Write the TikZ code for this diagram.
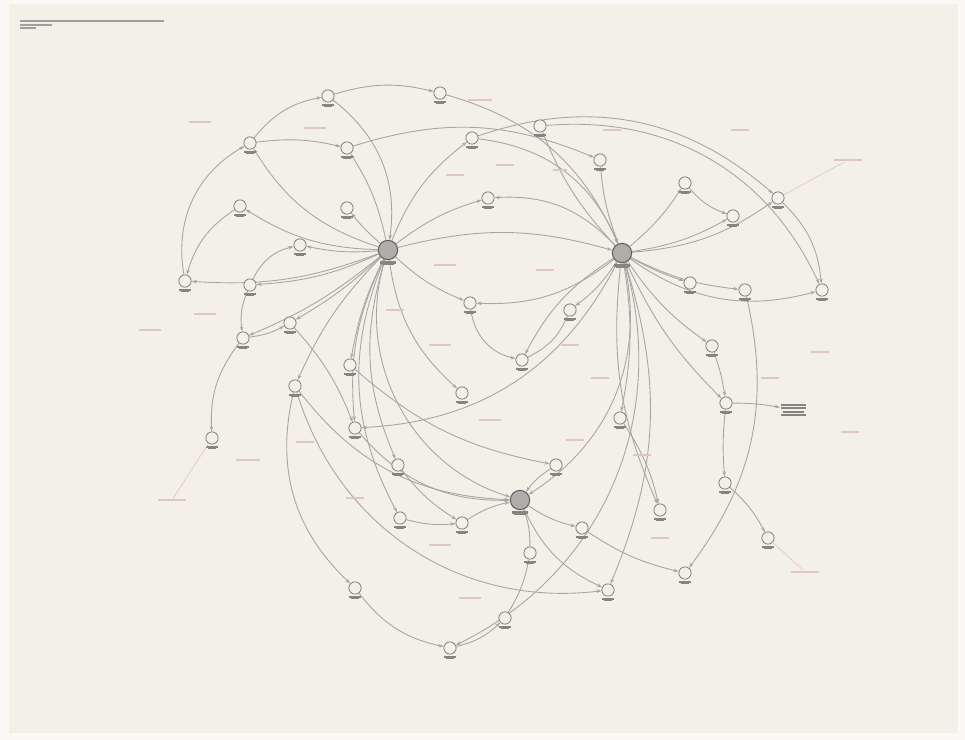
\documentclass[tikz,border=0pt]{standalone}
\usepackage{tikz}
\usetikzlibrary{positioning, arrows.meta, backgrounds}

\definecolor{paper}{RGB}{243,240,231}
\definecolor{ink}{RGB}{120,118,112}
\definecolor{pinkink}{RGB}{226,196,192}

\begin{document}
\begin{tikzpicture}[
  x=0.02cm, y=-0.02cm,
  >={Stealth[length=3pt,width=2pt]},
  nd/.style={circle, draw=ink, fill=paper, line width=0.4pt, minimum size=7pt, inner sep=0pt,
             label={[lblt]below:{\rule{7pt}{1.1pt}\\[-5pt]\rule{5pt}{1.1pt}}}},
  hub/.style={circle, draw=ink!80!black, fill=ink!60, line width=0.6pt, minimum size=11pt, inner sep=0pt,
             label={[lblt]below:{\rule{9pt}{1.3pt}\\[-5pt]\rule{7pt}{1.3pt}}}},
  lblt/.style={align=center, text=ink!90, inner sep=0.5pt, font=\tiny},
  note/.style={text=pinkink, inner sep=0.5pt, font=\tiny},
  arc/.style={->, ink!65, line width=0.5pt},
  lead/.style={pinkink, line width=0.35pt},
]

% ---- paper ----
\begin{scope}[on background layer]
  \fill[white!60!paper] (0,0) rectangle (965,740);
  \fill[paper] (9,4) rectangle (958,733);
\end{scope}
\useasboundingbox (0,0) rectangle (965,740);

% ---- title block (top left) ----
\node[anchor=north west, align=left, text=ink!70, inner sep=0pt, font=\tiny] (title) at (20,20)
  {\rule{82pt}{1pt}\\[-4pt]\rule{18pt}{1pt}\\[-4pt]\rule{9pt}{1pt}};

% ============================================================
% NODES
% ============================================================
\node[hub] (hA) at (388,250) {};
\node[hub] (hB) at (622,253) {};

\node[nd] (n1)  at (328,96)  {};
\node[nd] (n2)  at (440,93)  {};
\node[nd] (n3)  at (250,143) {};
\node[nd] (n4)  at (347,148) {};
\node[nd] (n5)  at (240,206) {};
\node[nd] (n6)  at (185,281) {};
\node[nd] (n7)  at (250,285) {};
\node[nd] (n8)  at (243,338) {};
\node[nd] (n9)  at (290,323) {};
\node[nd] (n10) at (295,386) {};
\node[nd] (n11) at (212,438) {};
\node[nd] (n12) at (355,428) {};
\node[nd] (n13) at (470,303) {};
\node[nd] (n14) at (522,360) {};
\node[nd] (n15) at (488,198) {};
\node[nd] (n16) at (472,138) {};
\node[nd] (n17) at (540,126) {};
\node[nd] (n18) at (600,160) {};
\node[nd] (n19) at (685,183) {};
\node[nd] (n20) at (733,216) {};
\node[nd] (n21) at (778,198) {};
\node[nd] (n22) at (822,290) {};
\node[nd] (n23) at (745,290) {};
\node[nd] (n24) at (690,283) {};
\node[nd] (n25) at (712,346) {};
\node[nd] (n26) at (726,403) {};
\node[nd] (n27) at (725,483) {};
\node[nd] (n28) at (768,538) {};
\node[nd] (n29) at (660,510) {};
\node[nd] (n30) at (620,418) {};
\node[nd] (n31) at (556,465) {};
\node[hub] (n32) at (520,500) {};
\node[nd] (n33) at (462,523) {};
\node[nd] (n34) at (530,553) {};
\node[nd] (n35) at (582,528) {};
\node[nd] (n36) at (685,573) {};
\node[nd] (n37) at (355,588) {};
\node[nd] (n38) at (505,618) {};
\node[nd] (n39) at (450,648) {};
\node[nd] (n40) at (400,518) {};
\node[nd] (n41) at (462,393) {};
\node[nd] (n42) at (570,310) {};
\node[nd] (n43) at (347,208) {};
\node[nd] (n44) at (300,245) {};
\node[nd] (n45) at (608,590) {};
\node[nd] (n46) at (350,365) {};
\node[nd] (n47) at (398,465) {};

% text block right of n26
\node[lblt, anchor=west] (blk) at (780,410)
  {\rule{14pt}{1.2pt}\\[-4pt]\rule{14pt}{1.2pt}\\[-4pt]\rule{12pt}{1.2pt}\\[-4pt]\rule{14pt}{1.2pt}};

% ============================================================
% CONNECTORS (behind the nodes)
% ============================================================
\begin{scope}[on background layer]
% from hub A
\foreach \t/\b in {n3/20, n5/15, n6/12, n7/10, n8/8, n9/6, n10/-10, n12/-15, n13/-10,
                   n15/10, n16/15, n4/-10, n43/5, n44/8, n41/-20, n40/-25, n46/-8, n47/-20}
  \draw[arc] (hA) to[bend left=\b] (\t);
\draw[arc] (hA) to[bend left=15] (hB);
\draw[arc] (hA) to[bend right=45] (n32);
\draw[arc] (n1) to[bend left=30] (hA);
% from hub B
\foreach \t/\b in {n17/10, n18/8, n19/-8, n20/-10, n21/-15, n23/-10, n24/-5, n25/-10,
                   n14/-15, n42/10, n30/10, n29/-15, n26/-10, n13/20, n22/-25}
  \draw[arc] (hB) to[bend left=\b] (\t);
\draw[arc] (n2) to[bend left=25] (hB);
\draw[arc] (n16) to[bend left=30] (hB);
\draw[arc] (hB) to[bend left=40] (n39);
\draw[arc] (hB) to[bend left=35] (n32);
\draw[arc] (hB) to[bend left=20] (n45);
\draw[arc] (hB) to[bend right=25] (n15);
\draw[arc] (hB) to[bend left=30] (n12);
% outer rings
\draw[arc] (n3) to[bend left=20] (n1);
\draw[arc] (n1) to[bend left=15] (n2);
\draw[arc] (n6) to[bend left=35] (n3);
\draw[arc] (n5) to[bend right=20] (n6);
\draw[arc] (n3) to[bend left=10] (n4);
\draw[arc] (n16) to[bend left=30] (n21);
\draw[arc] (n17) to[bend left=35] (n22);
\draw[arc] (n21) to[bend left=20] (n22);
\draw[arc] (n4) to[bend left=20] (n18);
\draw[arc] (n19) to[bend right=15] (n20);
% left cluster
\draw[arc] (n7) to[bend right=15] (n8);
\draw[arc] (n8) to[bend right=10] (n9);
\draw[arc] (n8) to[bend right=20] (n11);
\draw[arc] (n7) to[bend left=25] (n44);
\draw[arc] (n9) to[bend left=10] (n12);
% lower ring
\draw[arc] (n10) to[bend right=30] (n37);
\draw[arc] (n37) to[bend right=20] (n39);
\draw[arc] (n39) to[bend right=15] (n38);
\draw[arc] (n38) to[bend right=10] (n34);
\draw[arc] (n34) to[bend right=10] (n32);
\draw[arc] (n33) to[bend left=10] (n32);
\draw[arc] (n40) to[bend right=10] (n33);
\draw[arc] (n12) to[bend right=25] (n32);
\draw[arc] (n10) to[bend right=25] (n32);
\draw[arc] (n31) to[bend right=10] (n32);
\draw[arc] (n32) to[bend right=10] (n35);
\draw[arc] (n35) to[bend right=10] (n36);
\draw[arc] (n32) to[bend right=20] (n45);
\draw[arc] (n10) to[bend right=40] (n45);
\draw[arc] (n47) to[bend right=10] (n33);
\draw[arc] (n46) to[bend right=15] (n31);
% inner loop
\draw[arc] (n13) to[bend right=35] (n14);
\draw[arc] (n14) to[bend right=20] (n42);
% right chain
\draw[arc] (n25) to[bend left=5] (n26);
\draw[arc] (n26) to[bend right=5] (n27);
\draw[arc] (n27) to[bend left=10] (n28);
\draw[arc] (n26) to[bend left=5] (blk);
\draw[arc] (n30) to[bend left=10] (n29);
\draw[arc] (n23) to[bend left=25] (n36);
\end{scope}

% ============================================================
% FAINT NOTES (pink)
% ============================================================
\foreach \x/\y/\w in {480/100/14, 200/122/12, 315/128/12, 455/175/10, 505/165/10, 560/170/8,
                      612/130/10, 740/130/10, 150/330/12, 205/314/12, 445/265/12, 545/270/10,
                      440/345/12, 570/345/10, 490/420/12, 575/440/10, 248/460/14, 820/352/10,
                      770/378/10, 850/432/10, 642/455/10, 470/598/12, 355/498/10, 660/538/10,
                      440/545/12, 305/442/10, 600/378/10, 395/310/10}
  \node[note] at (\x,\y) {\rule{\w pt}{1pt}};
\node[note] (p1) at (848,160) {\rule{16pt}{1pt}};
\draw[lead] (p1) -- (n21);
\node[note] (p2) at (172,500) {\rule{16pt}{1pt}};
\draw[lead] (p2) -- (n11);
\node[note] (p3) at (805,572) {\rule{16pt}{1pt}};
\draw[lead] (p3) -- (n28);

\end{tikzpicture}
\end{document}
